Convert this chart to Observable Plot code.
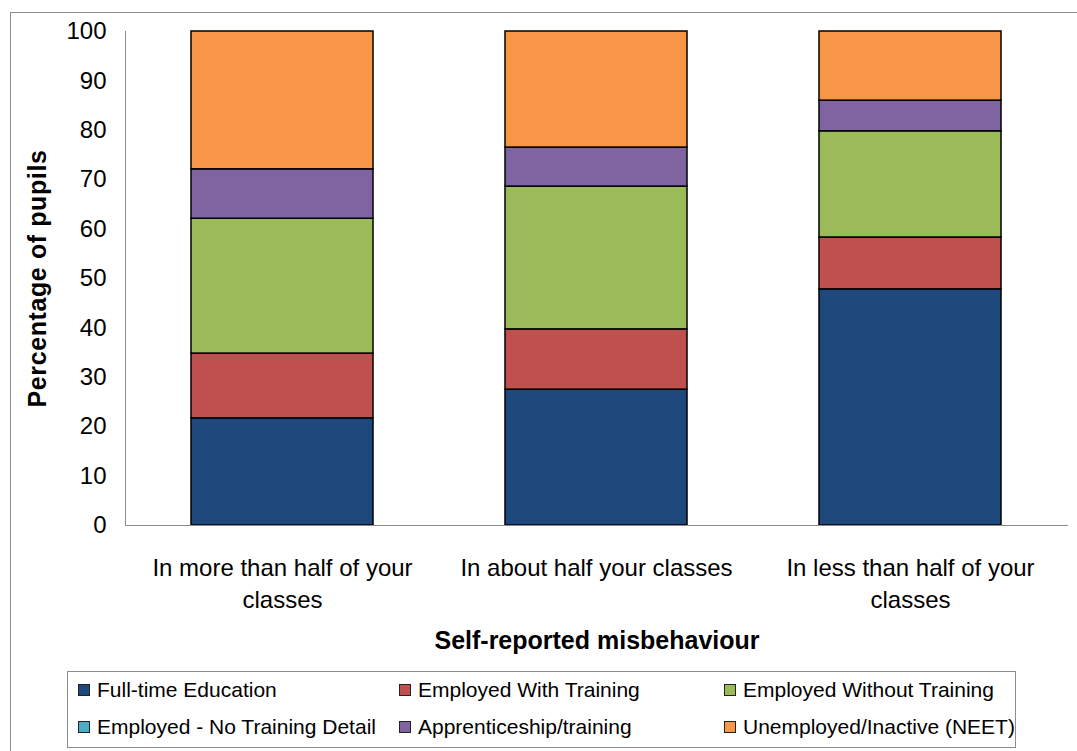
<!DOCTYPE html>
<html><head><meta charset="utf-8">
<script src="https://cdn.jsdelivr.net/npm/d3@7"></script>
<script src="https://cdn.jsdelivr.net/npm/@observablehq/plot@0.6"></script>
<style>
body{margin:0;background:#fff;overflow:hidden;font-family:"Liberation Sans",Arial,sans-serif;}
#wrap{position:relative;width:1077px;height:751px;overflow:hidden;}
#frame{position:absolute;left:10px;top:12px;width:1200px;height:800px;border:1px solid #8c8c8c;}
#chart{position:absolute;left:0;top:0;}
#legend{position:absolute;left:67px;top:671px;width:949px;height:77px;border:1px solid #8c8c8c;box-sizing:border-box;background:#fff;}
.item{position:absolute;height:26px;line-height:26px;font-size:21px;white-space:nowrap;color:#000;}
.sw{position:absolute;left:0;top:7px;width:12px;height:12px;border:1px solid #222;box-sizing:border-box;}
.lab{position:absolute;left:19px;top:0;}
.ylab text{letter-spacing:0.6px;}
</style>
</head><body>
<div id="wrap"><div id="frame"></div><div id="chart"></div><div id="legend"></div></div>
<script>
const categories = ["In more than half of your classes", "In about half your classes", "In less than half of your classes"];
const xTickLabels = ["In more than half of your\nclasses", "In about half your classes", "In less than half of your\nclasses"];
const seriesNames = ["Full-time Education", "Employed With Training", "Employed Without Training", "Employed - No Training Detail", "Apprenticeship/training", "Unemployed/Inactive (NEET)"];
const seriesColors = ["#1F497D", "#C0504D", "#9BBB59", "#4BACC6", "#8064A2", "#F79646"];
const fullTimeEducation = [21.7, 27.5, 47.8];
const employedWithTraining = [13.1, 12.2, 10.5];
const employedWithoutTraining = [27.3, 28.9, 21.5];
const employedNoTrainingDetail = [0, 0, 0];
const apprenticeship = [10.0, 7.9, 6.2];
const neet = [27.9, 23.5, 14.0];
const yTicks = [0, 10, 20, 30, 40, 50, 60, 70, 80, 90, 100];
const yLabel = "Percentage of pupils";
const xLabel = "Self-reported misbehaviour";

const seriesValues = [fullTimeEducation, employedWithTraining, employedWithoutTraining, employedNoTrainingDetail, apprenticeship, neet];
const data = [];
categories.forEach((c, i) => {
  seriesNames.forEach((s, j) => {
    data.push({category: c, series: s, value: seriesValues[j][i]});
  });
});
const tickMap = new Map(categories.map((c, i) => [c, xTickLabels[i]]));

const chart = Plot.plot({
  width: 1077,
  height: 662,
  marginTop: 31,
  marginBottom: 137,
  marginLeft: 125,
  marginRight: 9,
  style: {fontFamily: "'Liberation Sans', Arial, sans-serif", color: "#000", background: "transparent"},
  x: {domain: categories, paddingInner: 0.42, paddingOuter: 0.21},
  y: {domain: [0, 100]},
  color: {domain: seriesNames, range: seriesColors},
  marks: [
    Plot.barY(data.filter(d => d.value > 0), Plot.stackY({x: "category", y: "value", fill: "series", stroke: "#000", strokeWidth: 1.5})),
    Plot.ruleY([0], {stroke: "#8c8c8c", strokeWidth: 1}),
    Plot.frame({anchor: "left", stroke: "#8c8c8c", strokeWidth: 1}),
    Plot.axisY({ticks: yTicks, tickSize: 0, tickPadding: 19, fontSize: 24, label: null}),
    Plot.axisX({tickSize: 0, tickPadding: 27, fontSize: 24, lineHeight: 1.35, tickFormat: d => tickMap.get(d), label: null}),
    Plot.text([yLabel], {frameAnchor: "left", rotate: -90, dx: -88, fontSize: 25, fontWeight: "bold", textAnchor: "middle", text: d => d, className: "ylab"}),
    Plot.text([xLabel], {frameAnchor: "bottom", dy: 123, fontSize: 25, fontWeight: "bold", text: d => d})
  ]
});
document.getElementById("chart").appendChild(chart);

const legend = document.getElementById("legend");
const colLeft = [10, 331, 656];
const rowTop = [5, 42];
seriesNames.forEach((s, j) => {
  const item = document.createElement("div");
  item.className = "item";
  item.style.left = colLeft[j % 3] + "px";
  item.style.top = rowTop[Math.floor(j / 3)] + "px";
  const sw = document.createElement("div");
  sw.className = "sw";
  sw.style.background = seriesColors[j];
  const lab = document.createElement("span");
  lab.className = "lab";
  lab.textContent = s;
  item.appendChild(sw); item.appendChild(lab);
  legend.appendChild(item);
});
</script>
</body></html>
